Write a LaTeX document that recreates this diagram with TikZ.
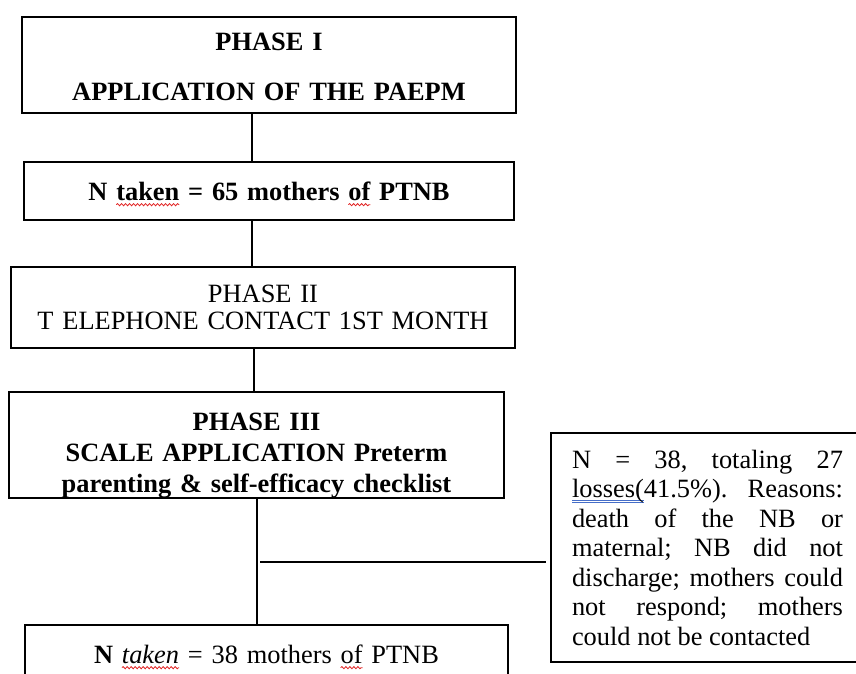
\documentclass[tikz,border=0pt]{standalone}
\usepackage{fontspec}
\setmainfont{Liberation Serif}
\usetikzlibrary{decorations.pathmorphing}

\definecolor{spellred}{RGB}{225,35,35}
\definecolor{gramblue}{RGB}{70,110,200}

\newsavebox\markbox
\newlength\markwd
\newcommand{\spellmark}[1]{\sbox\markbox{#1}\setlength\markwd{\wd\markbox}%
\tikz[overlay]\draw[spellred,line width=0.8pt,decorate,decoration={snake,amplitude=1.1pt,segment length=4pt}] (0pt,-4.5pt) -- (\markwd,-4.5pt);\usebox\markbox}
\newcommand{\grammark}[1]{\sbox\markbox{#1}\setlength\markwd{\wd\markbox}%
\tikz[overlay]\draw[gramblue,line width=0.7pt] (0pt,-2.5pt) -- (\markwd,-2.5pt) (0pt,-4.8pt) -- (\markwd,-4.8pt);\usebox\markbox}

\begin{document}
\begin{tikzpicture}[x=1pt,y=-1pt,
  box/.style={draw,line width=2pt,anchor=north west,outer sep=0pt,inner xsep=0pt,align=center},
  link/.style={line width=1.3pt}]

\useasboundingbox (0,0) rectangle (856,673);
\clip (0,0) rectangle (856,673);

\node [box,text width=494pt,minimum height=96pt,font=\fontsize{26.4}{50}\selectfont\bfseries] (phaseone) at (22,17) {\rule{0pt}{21pt}PHASE I\\APPLICATION OF THE PAEPM};

\node [box,text width=490pt,minimum height=58pt,font=\fontsize{26.4}{30}\selectfont\bfseries] (takenone) at (24,162) {N \spellmark{taken} = 65 mothers \spellmark{of} PTNB};

\node [box,text width=504pt,minimum height=81pt,font=\fontsize{26.4}{27}\selectfont] (phasetwo) at (11,267) {PHASE II\\T ELEPHONE CONTACT 1ST MONTH};

% text sits low in this box
\node [box,text width=495pt,inner ysep=0pt,font=\fontsize{26.4}{31}\selectfont\bfseries] (phasethree) at (9,392) {\rule{0pt}{38pt}PHASE III\\SCALE APPLICATION Preterm\\parenting \& self-efficacy checklist};

\node [box,text width=483pt,minimum height=58pt,font=\fontsize{26.4}{30}\selectfont] (takentwo) at (25,625) {{\bfseries N} \spellmark{\itshape taken} = 38 mothers \spellmark{of} PTNB};

\node [box,align=justify,text width=271pt,inner xsep=21pt,minimum height=229pt,font=\fontsize{26.4}{29.5}\selectfont\frenchspacing] (losses) at (551,433) {\noindent\tolerance=9999\hbadness=10000 N = 38, totaling 27\linebreak \grammark{losses(}41.5\%). Reasons:\linebreak death of the NB or\linebreak maternal; NB did not\linebreak discharge; mothers could\linebreak not respond; mothers\linebreak could not be contacted};

\coordinate (axA) at (252,0);
\coordinate (axB) at (254,0);
\coordinate (axC) at (257,0);
\coordinate (split) at (257,562);

\draw [link] (phaseone.south -| axA) -- (takenone.north -| axA);
\draw [link] (takenone.south -| axA) -- (phasetwo.north -| axA);
\draw [link] (phasetwo.south -| axB) -- (phasethree.north -| axB);
\draw [link] (phasethree.south -| axC) -- (takentwo.north -| axC);
\draw [link] ([xshift=3pt]split) -- ([xshift=-5pt]split -| losses.west);

\end{tikzpicture}
\end{document}
